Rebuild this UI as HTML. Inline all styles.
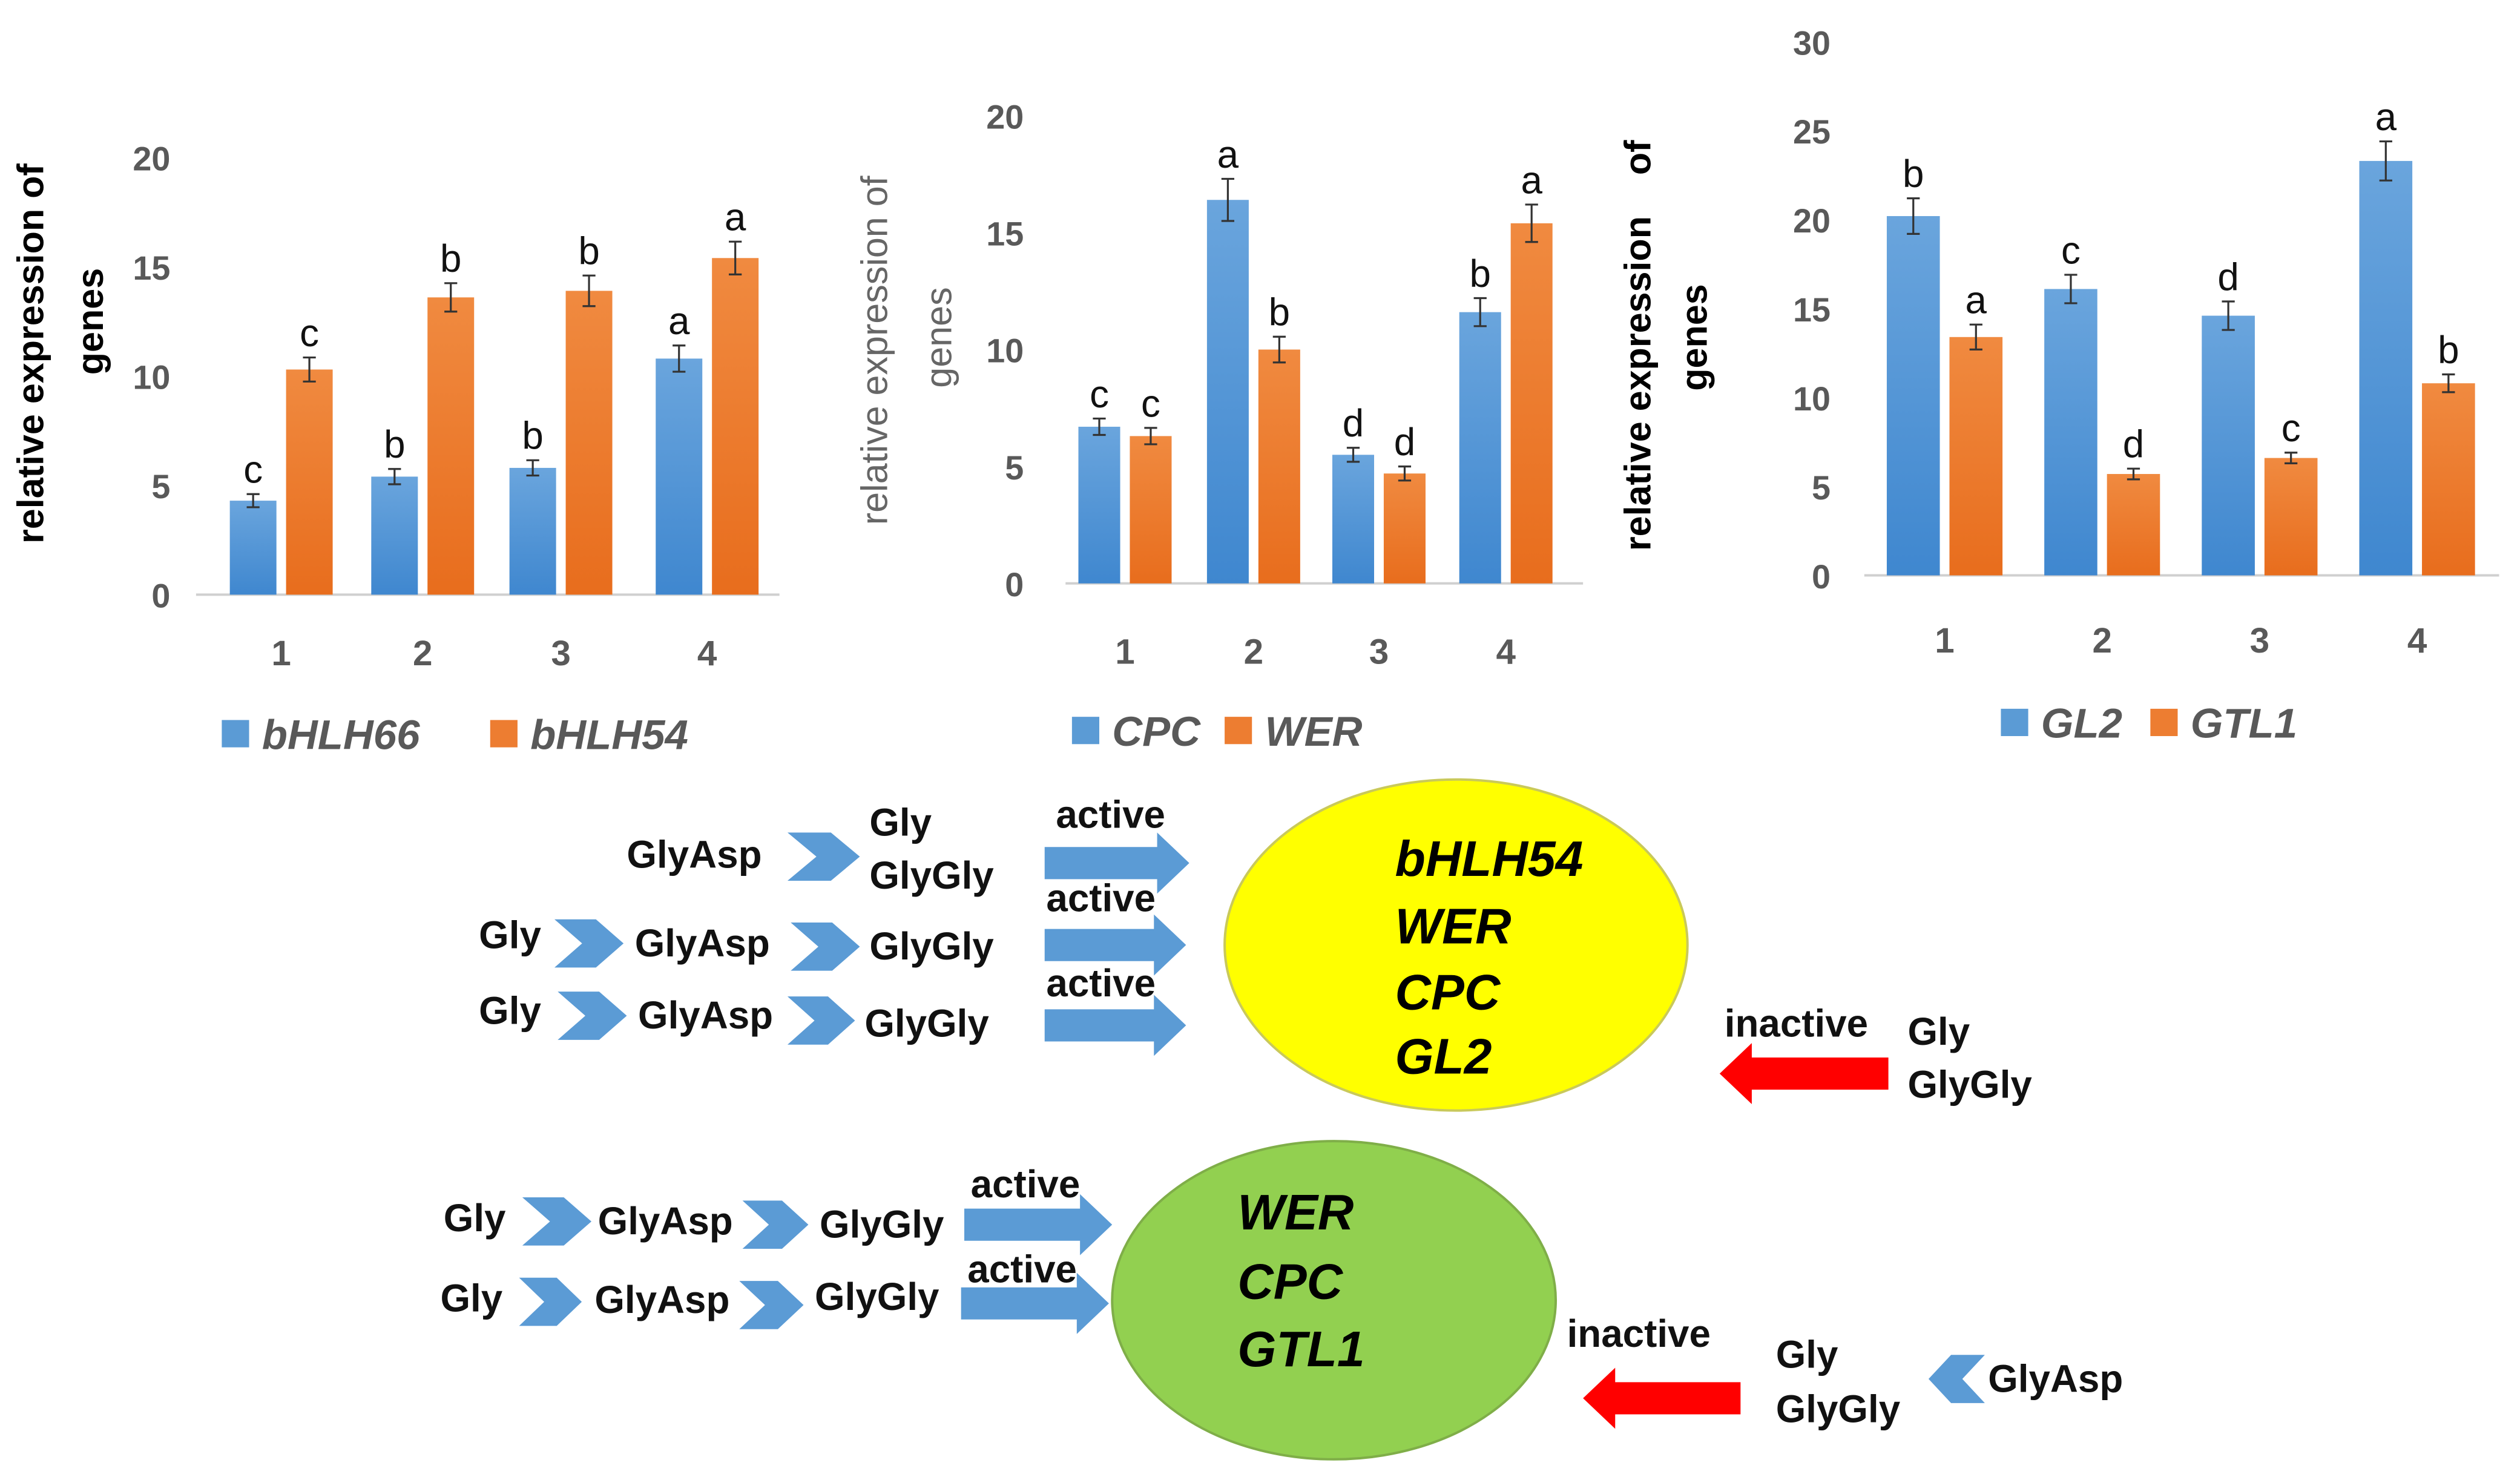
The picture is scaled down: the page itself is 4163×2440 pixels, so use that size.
<!DOCTYPE html>
<html><head><meta charset="utf-8"><style>
html,body{margin:0;padding:0;background:#fff;}
svg{display:block;}
.t{font-family:"Liberation Sans",sans-serif;}
.n{font-family:"Liberation Sans Narrow","Liberation Sans",sans-serif;font-weight:bold;font-size:24px;fill:#111;}
</style></head><body>
<svg id="root" width="4163" height="2440" viewBox="0 0 1568 919" preserveAspectRatio="none" xmlns="http://www.w3.org/2000/svg">
<defs>
<linearGradient id="gb" x1="0" y1="0" x2="0" y2="1"><stop offset="0" stop-color="#6aa5dd"/><stop offset="1" stop-color="#3f87cf"/></linearGradient>
<linearGradient id="go" x1="0" y1="0" x2="0" y2="1"><stop offset="0" stop-color="#f08a40"/><stop offset="1" stop-color="#e86d1d"/></linearGradient>
</defs>
<g id="charts"></g>
<g id="diagram">
<ellipse cx="906" cy="588" rx="144" ry="103" fill="#ffff00" stroke="#c9c95a" stroke-width="1.5"/>
<ellipse cx="830" cy="809" rx="138" ry="99" fill="#92d050" stroke="#7fae48" stroke-width="1.5"/>
<g class="n" style="font-style:italic;font-size:31px;fill:#000">
<text x="868" y="545">bHLH54</text>
<text x="868" y="587">WER</text>
<text x="868" y="628">CPC</text>
<text x="868" y="668">GL2</text>
<text x="770" y="765">WER</text>
<text x="770" y="808">CPC</text>
<text x="770" y="850">GTL1</text>
</g>
<g id="dtext" class="n"></g>
<g id="dshapes"></g>
</g>
</svg>
<script>
const NS="http://www.w3.org/2000/svg";
function mk(tag,attrs,parent,txt){const e=document.createElementNS(NS,tag);for(const k in attrs)e.setAttribute(k,attrs[k]);if(txt!==undefined)e.textContent=txt;parent.appendChild(e);return e;}

// ---- chart data ----
const categories=["1","2","3","4"];
const bhlh66=[4.3,5.4,5.8,10.8];
const bhlh54=[10.3,13.6,13.9,15.4];
const bhlh66Err=[0.3,0.35,0.35,0.6];
const bhlh54Err=[0.55,0.65,0.7,0.75];
const bhlh66Letters=["c","b","b","a"];
const bhlh54Letters=["c","b","b","a"];
const cpc=[6.7,16.4,5.5,11.6];
const wer=[6.3,10.0,4.7,15.4];
const cpcErr=[0.35,0.9,0.3,0.6];
const werErr=[0.35,0.55,0.3,0.8];
const cpcLetters=["c","a","d","b"];
const werLetters=["c","b","d","a"];
const gl2=[20.2,16.1,14.6,23.3];
const gtl1=[13.4,5.7,6.6,10.8];
const gl2Err=[1.0,0.8,0.8,1.1];
const gtl1Err=[0.7,0.3,0.3,0.5];
const gl2Letters=["b","c","d","a"];
const gtl1Letters=["a","d","c","b"];
const ticks1=[0,5,10,15,20];
const ticks2=[0,5,10,15,20];
const ticks3=[0,5,10,15,20,25,30];

const charts=[
 {id:"chart-bhlh",s1:bhlh66,s2:bhlh54,e1:bhlh66Err,e2:bhlh54Err,l1:bhlh66Letters,l2:bhlh54Letters,ticks:ticks1,max:20,
  y0:370,yMax:98,x0:122,x1:485,cx:[175,263,349,440],bw:29,gap:6,tickX:106,catY:414,
  names:["bHLH66","bHLH54"],legY:457,leg:[138,305],titleBold:true,titleX:[27,64],titleY:[220,200],titles:["relative expression of","genes"],titleFill:"#000"},
 {id:"chart-cpc",s1:cpc,s2:wer,e1:cpcErr,e2:werErr,l1:cpcLetters,l2:werLetters,ticks:ticks2,max:20,
  y0:363,yMax:72,x0:663,x1:985,cx:[700,780,858,937],bw:26,gap:6,tickX:637,catY:413,
  names:["CPC","WER"],legY:455,leg:[667,762],titleBold:false,titleX:[552,592],titleY:[218,210],titles:["relative expression of","genes"],titleFill:"#666"},
 {id:"chart-gl2",s1:gl2,s2:gtl1,e1:gl2Err,e2:gtl1Err,l1:gl2Letters,l2:gtl1Letters,ticks:ticks3,max:30,
  y0:358,yMax:26,x0:1160,x1:1555,cx:[1210,1308,1406,1504],bw:33,gap:6,tickX:1139,catY:406,
  names:["GL2","GTL1"],legY:450,leg:[1245,1338],titleBold:true,titleX:[1027,1062],titleY:[215,210],titles:["relative expression    of","genes"],titleFill:"#000"}
];
const root=document.getElementById("charts");
charts.forEach(c=>{
  const g=mk("g",{},root);
  
  
  const y=v=>c.y0-(v/c.max)*(c.y0-c.yMax);
  c.ticks.forEach(t=>{
    const tx=mk("text",{x:c.tickX,y:y(t)+8,"text-anchor":"end",class:"t","font-size":"21","font-weight":"bold",fill:"#595959"},g,String(t));
    
    
  });
  const ax=mk("line",{x1:c.x0,x2:c.x1,y1:c.y0,y2:c.y0,stroke:"#d0d0d0","stroke-width":1.5},g);
  
  
  categories.forEach((cat,i)=>{
    const cx=c.cx[i];
    [[c.s1,c.e1,c.l1,"url(#gb)",-1],[c.s2,c.e2,c.l2,"url(#go)",1]].forEach(([s,e,l,fill,side])=>{
      const bx=side<0?cx-c.gap/2-c.bw:cx+c.gap/2;
      const r=mk("rect",{x:bx,y:y(s[i]),width:c.bw,height:c.y0-y(s[i]),fill:fill},g);
      
      
      const mx=bx+c.bw/2, top=y(s[i]+e[i]), bot=y(s[i]-e[i]);
      const eb=mk("path",{d:`M${mx},${top}V${bot}M${mx-4},${top}H${mx+4}M${mx-4},${bot}H${mx+4}`,stroke:"#333","stroke-width":1.2,fill:"none"},g);
      
      
      const lt=mk("text",{x:mx,y:top-7,"text-anchor":"middle",class:"t","font-size":"24",fill:"#111"},g,l[i]);
      
      
    });
    const cl=mk("text",{x:cx,y:c.catY,"text-anchor":"middle",class:"t","font-size":"22","font-weight":"bold",fill:"#595959"},g,cat);
    
    
  });
  c.titles.forEach((tt,k)=>{
    const t=mk("text",{transform:`translate(${c.titleX[k]},${c.titleY[k]}) rotate(-90)`,"text-anchor":"middle",class:"t","font-size":"23","font-weight":c.titleBold?"bold":"normal",fill:c.titleFill,style:"white-space:pre"},g,tt);
    
    
  });
  c.names.forEach((nm,k)=>{
    const sq=mk("rect",{x:c.leg[k],y:c.legY-9,width:17,height:17,fill:k?"#ed7d31":"#5b9bd5"},g);
    
    
    const lt=mk("text",{x:c.leg[k]+25,y:c.legY+9,class:"t","font-size":"26","font-weight":"bold","font-style":"italic",fill:"#595959"},g,nm);
    
    
  });
});

// ---- diagram ----
const dt=document.getElementById("dtext"), ds=document.getElementById("dshapes");
const labels=[
 ["GlyAsp",390,540],["Gly",541,520],["GlyGly",541,553],["active",657,515],
 ["Gly",298,590],["GlyAsp",395,595],["GlyGly",541,597],["active",651,567],
 ["Gly",298,637],["GlyAsp",397,640],["GlyGly",538,645],["active",651,620],
 ["inactive",1073,645],["Gly",1187,650],["GlyGly",1187,683],
 ["Gly",276,766],["GlyAsp",372,768],["GlyGly",510,770],["active",604,745],
 ["Gly",274,816],["GlyAsp",370,817],["GlyGly",507,815],["active",602,798],
 ["inactive",975,838],["Gly",1105,851],["GlyGly",1105,885],["GlyAsp",1237,866]
];
labels.forEach(([t,x,yy])=>{
  const e=mk("text",{x:x,y:yy},dt,t);
  
  
});
function chevron(x,y,w,h,left){
  const n=w*0.4;
  const d=left?`M${x+w},${y} L${x+n},${y} L${x},${y+h/2} L${x+n},${y+h} L${x+w},${y+h} L${x+w-n},${y+h/2}Z`
              :`M${x},${y} L${x+w-n},${y} L${x+w},${y+h/2} L${x+w-n},${y+h} L${x},${y+h} L${x+n},${y+h/2}Z`;
  const e=mk("path",{d:d,fill:"#5b9bd5"},ds);
  
  
}
[[490,518,45,30],[345,572,43,30],[492,574,43,30],[347,617,43,30],[490,620,42,30],
 [325,745,43,30],[462,747,41,30],[323,795,39,30],[460,797,40,30]].forEach(a=>chevron(...a));
chevron(1200,843,35,30,true);
function arrow(x1,x2,cy,color,left,name){
  const bh=10, hh=19, hw=20;
  let d;
  if(!left) d=`M${x1},${cy-bh} L${x2-hw},${cy-bh} L${x2-hw},${cy-hh} L${x2},${cy} L${x2-hw},${cy+hh} L${x2-hw},${cy+bh} L${x1},${cy+bh}Z`;
  else d=`M${x2},${cy-bh} L${x1+hw},${cy-bh} L${x1+hw},${cy-hh} L${x1},${cy} L${x1+hw},${cy+hh} L${x1+hw},${cy+bh} L${x2},${cy+bh}Z`;
  const e=mk("path",{d:d,fill:color},ds);
  
  
}
arrow(650,740,537,"#5b9bd5",false,'active-arrow');
arrow(650,738,588,"#5b9bd5",false,'active-arrow');
arrow(650,738,638,"#5b9bd5",false,'active-arrow');
arrow(600,692,762,"#5b9bd5",false,'active-arrow');
arrow(598,690,811,"#5b9bd5",false,'active-arrow');
arrow(1070,1175,668,"#ff0000",true,'inactive-arrow');
arrow(985,1083,870,"#ff0000",true,'inactive-arrow');
</script>
</body></html>
